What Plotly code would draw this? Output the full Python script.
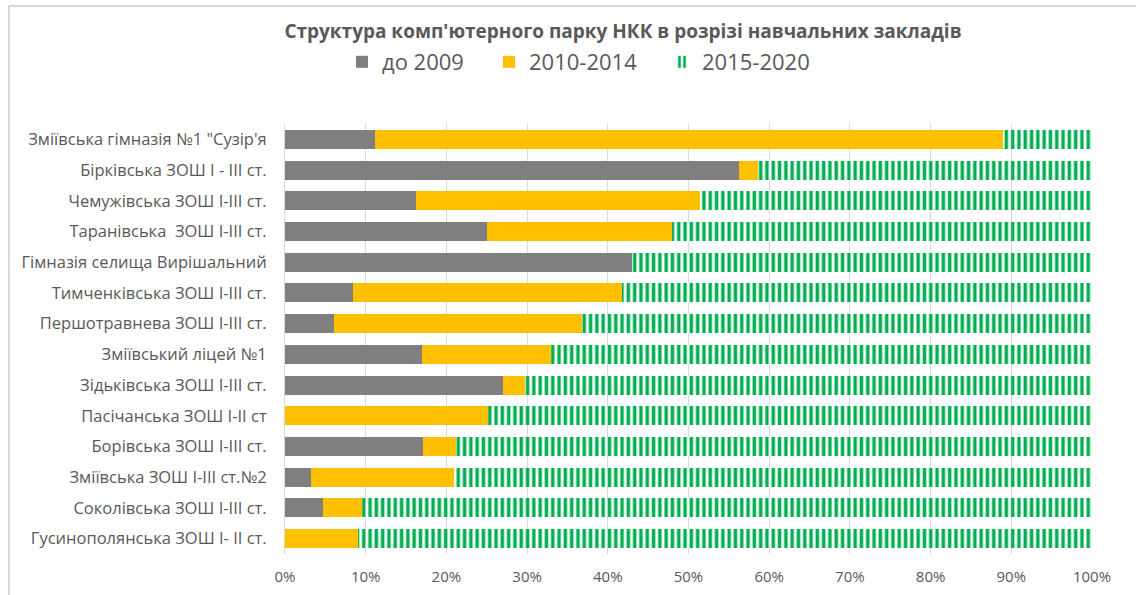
import plotly.graph_objects as go

schools = [
    "Зміївська гімназія №1 \"Сузір'я",
    "Бірківська ЗОШ І - ІІІ ст.",
    "Чемужівська ЗОШ І-ІІІ ст.",
    "Таранівська  ЗОШ І-ІІІ ст.",
    "Гімназія селища Вирішальний",
    "Тимченківська ЗОШ І-ІІІ ст.",
    "Першотравнева ЗОШ І-ІІІ ст.",
    "Зміївський ліцей №1",
    "Зідьківська ЗОШ І-ІІІ ст.",
    "Пасічанська ЗОШ І-ІІ ст",
    "Борівська ЗОШ І-ІІІ ст.",
    "Зміївська ЗОШ І-ІІІ ст.№2",
    "Соколівська ЗОШ І-ІІІ ст.",
    "Гусинополянська ЗОШ І- ІІ ст.",
]
before_2009 = [11.2, 56.2, 16.2, 25.0, 43.0, 8.4, 6.1, 17.0, 27.0, 0.0, 17.1, 3.2, 4.7, 0.0]
y2010_2014 = [77.8, 2.4, 35.2, 23.0, 0.0, 33.3, 30.7, 15.9, 2.7, 25.1, 4.1, 17.8, 4.8, 9.1]
y2015_2020 = [11.0, 41.4, 48.6, 52.0, 57.0, 58.3, 63.2, 67.1, 70.3, 74.9, 78.8, 79.0, 90.5, 90.9]
series_names = ["до 2009", "2010-2014", "2015-2020"]
x_ticks = [0, 10, 20, 30, 40, 50, 60, 70, 80, 90, 100]
x_tick_labels = ["0%", "10%", "20%", "30%", "40%", "50%", "60%", "70%", "80%", "90%", "100%"]

FONT = "Open Sans"
TXT = "#595959"
W, H = 1136, 595
ML, MR, MT, MB = 285, 44, 124, 41
PW, PH = W - ML - MR, H - MT - MB


def px_x(px):
    return (px - ML) / PW


def px_y(py):
    return (H - MB - py) / PH


fig = go.Figure()
fig.add_trace(go.Bar(y=schools, x=before_2009, name=series_names[0], orientation="h",
                     legend="legend",
                     marker=dict(color="#7F7F7F", line=dict(width=0))))
fig.add_trace(go.Bar(y=schools, x=y2010_2014, name=series_names[1], orientation="h",
                     legend="legend2",
                     marker=dict(color="#FFC000", line=dict(width=0))))
fig.add_trace(go.Bar(y=schools, x=y2015_2020, name=series_names[2], orientation="h",
                     legend="legend3",
                     marker=dict(color="#00B050", line=dict(width=0),
                                 pattern=dict(shape="|", fgcolor="#00B050", bgcolor="white",
                                              size=6.3, solidity=0.55, fillmode="replace",
                                              fgopacity=1))))

leg_common = dict(orientation="h", xanchor="left", y=px_y(62), yanchor="middle",
                  font=dict(family=FONT, size=22, color=TXT), bgcolor="rgba(0,0,0,0)",
                  itemwidth=30)
fig.update_layout(
    barmode="stack",
    barnorm="percent",
    bargap=0.38,
    width=W, height=H,
    margin=dict(l=ML, r=MR, t=MT, b=MB, autoexpand=False),
    paper_bgcolor="white", plot_bgcolor="white",
    font=dict(family=FONT, color=TXT, size=14),
    title=dict(text="<b>Структура комп'ютерного парку НКК в розрізі навчальних закладів</b>",
               x=623 / W, xref="container", xanchor="center",
               y=1 - 31 / H, yref="container", yanchor="middle",
               font=dict(family=FONT, size=19, color=TXT)),
    legend=dict(x=px_x(342), **leg_common),
    legend2=dict(x=px_x(489), **leg_common),
    legend3=dict(x=px_x(662), **leg_common),
    showlegend=True,
)
fig.update_xaxes(range=[0, 100], tickvals=x_ticks, ticktext=x_tick_labels,
                 showgrid=True, gridcolor="#D9D9D9", gridwidth=1,
                 zeroline=False, showline=False, ticks="",
                 ticklabelstandoff=12,
                 tickfont=dict(family=FONT, size=15, color=TXT))
fig.update_yaxes(autorange="reversed", showgrid=False, showline=True,
                 linecolor="#D9D9D9", linewidth=1, ticks="",
                 ticklabelstandoff=14,
                 tickfont=dict(family=FONT, size=16.5, color=TXT))

# outer chart border (left/top visible)
fig.add_shape(type="rect", xref="paper", yref="paper",
              x0=px_x(9), x1=px_x(1145), y0=px_y(605), y1=px_y(6),
              line=dict(color="#D9D9D9", width=2), fillcolor="rgba(0,0,0,0)", layer="below")

fig.write_html("out.html", config={"displayModeBar": False},
               post_script="document.body.style.margin='0';document.body.style.overflow='hidden';")
